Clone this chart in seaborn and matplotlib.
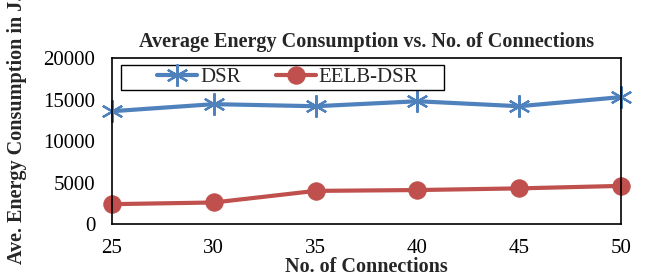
import matplotlib
matplotlib.use("Agg")
import matplotlib.pyplot as plt
from matplotlib.patches import Rectangle
import seaborn as sns

# values
connections = [25, 30, 35, 40, 45, 50]
dsr = [13600, 14450, 14200, 14800, 14200, 15300]
eelb_dsr = [2400, 2600, 4000, 4100, 4300, 4600]

sns.set_theme(style="white")
plt.rcParams["font.family"] = ["Liberation Serif", "DejaVu Serif"]

fig = plt.figure(figsize=(6.46, 2.78), dpi=100)
ax = fig.add_axes([0.1734, 0.194, 0.788, 0.597])

sns.lineplot(x=connections, y=dsr, label="DSR", color="#4F81BD",
             marker=(6, 2, 0), markersize=16, markeredgewidth=1.6,
             markeredgecolor="#4F81BD", linewidth=3, ax=ax)
sns.lineplot(x=connections, y=eelb_dsr, label="EELB-DSR", color="#C0504D",
             marker="o", markersize=12.5, markeredgecolor="#C0504D",
             linewidth=3, ax=ax)
for l in ax.lines:
    l.set_clip_on(False)

ax.set_xlim(25, 50)
ax.set_ylim(0, 20000)
ax.set_xticks(connections)
ax.set_yticks([0, 5000, 10000, 15000, 20000])
ax.tick_params(length=0, labelsize=15, colors="black")
ax.tick_params(axis="y", pad=12)
ax.tick_params(axis="x", pad=11)
for s in ax.spines.values():
    s.set_color("black")
    s.set_linewidth(1.2)

ax.set_title("Average Energy Consumption vs. No. of Connections",
             fontsize=14.5, fontweight="bold", pad=8)
ax.set_xlabel("No. of Connections", fontsize=14.5, fontweight="bold")
ax.set_ylabel("Ave. Energy Consumption in J.", fontsize=14.5, fontweight="bold")
ax.xaxis.set_label_coords(0.5, -0.2)
ax.yaxis.set_label_coords(-0.167, 0.57)

# legend box drawn separately, entries placed inside it
ax.add_patch(Rectangle((0.0177, 0.807), 0.635, 0.1506, transform=ax.transAxes,
                       facecolor="white", edgecolor="black", linewidth=1.0,
                       zorder=3))
leg = ax.legend(loc="center left", bbox_to_anchor=(0.0884, 0.8825), ncol=2,
                fontsize=15, frameon=False, borderpad=0, borderaxespad=0,
                handlelength=1.92, columnspacing=1.68, handletextpad=0.15)
leg.set_zorder(4)

fig.savefig("out.png", dpi=100)
